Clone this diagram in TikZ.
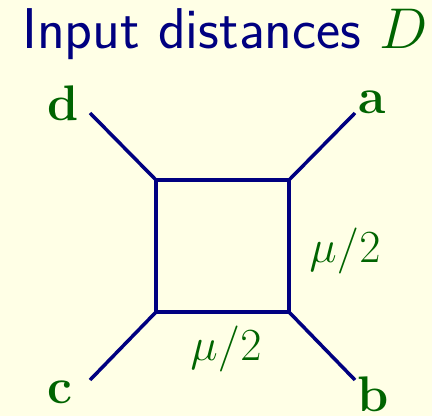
\RequirePackage{fix-cm}
\documentclass[tikz,border=0pt]{standalone}
\usepackage{amsmath}
\definecolor{bgy}{RGB}{255,255,230}
\definecolor{navyc}{RGB}{0,0,128}
\definecolor{greenc}{RGB}{0,100,0}
\begin{document}
\begin{tikzpicture}[x=1pt,y=-1pt,
  edge/.style={draw=navyc,line width=3.5pt},
  lbl/.style={text=greenc,font=\fontsize{50}{56}\selectfont\bfseries,inner sep=0pt},
  mlbl/.style={text=greenc,font=\fontsize{46}{52}\selectfont,inner sep=0pt}]
\fill[bgy] (0,0) rectangle (432,416);
\useasboundingbox (0,0) rectangle (432,416);
\node[anchor=base west,inner sep=0pt,text=navyc,font=\sffamily\fontsize{57.5}{64}\selectfont] (title) at (22,48) {Input distances \textcolor{greenc}{$D$}};
\coordinate (tl) at (156,180);
\coordinate (tr) at (289,180);
\coordinate (br) at (289,312);
\coordinate (bl) at (156,312);
\coordinate (ed) at (90,113);
\coordinate (ea) at (355,113);
\coordinate (ec) at (90,380);
\coordinate (eb) at (355,380);
\draw[edge,line join=miter] (tl) -- (tr) -- (br) -- (bl) -- cycle;
\draw[edge] (ed) -- (tl);
\draw[edge] (ea) -- (tr);
\draw[edge] (ec) -- (bl);
\draw[edge] (eb) -- (br);
\node[lbl,anchor=base] (d) at (63,120) {d};
\node[lbl,anchor=base] (a) at (372,113) {a};
\node[lbl,anchor=base] (c) at (60,403) {c};
\node[lbl,anchor=base] (b) at (373,411) {b};
\node[mlbl,anchor=base] (m1) at (345,262) {$\mu/2$};
\node[mlbl,anchor=base] (m2) at (226,360) {$\mu/2$};
\end{tikzpicture}
\end{document}
